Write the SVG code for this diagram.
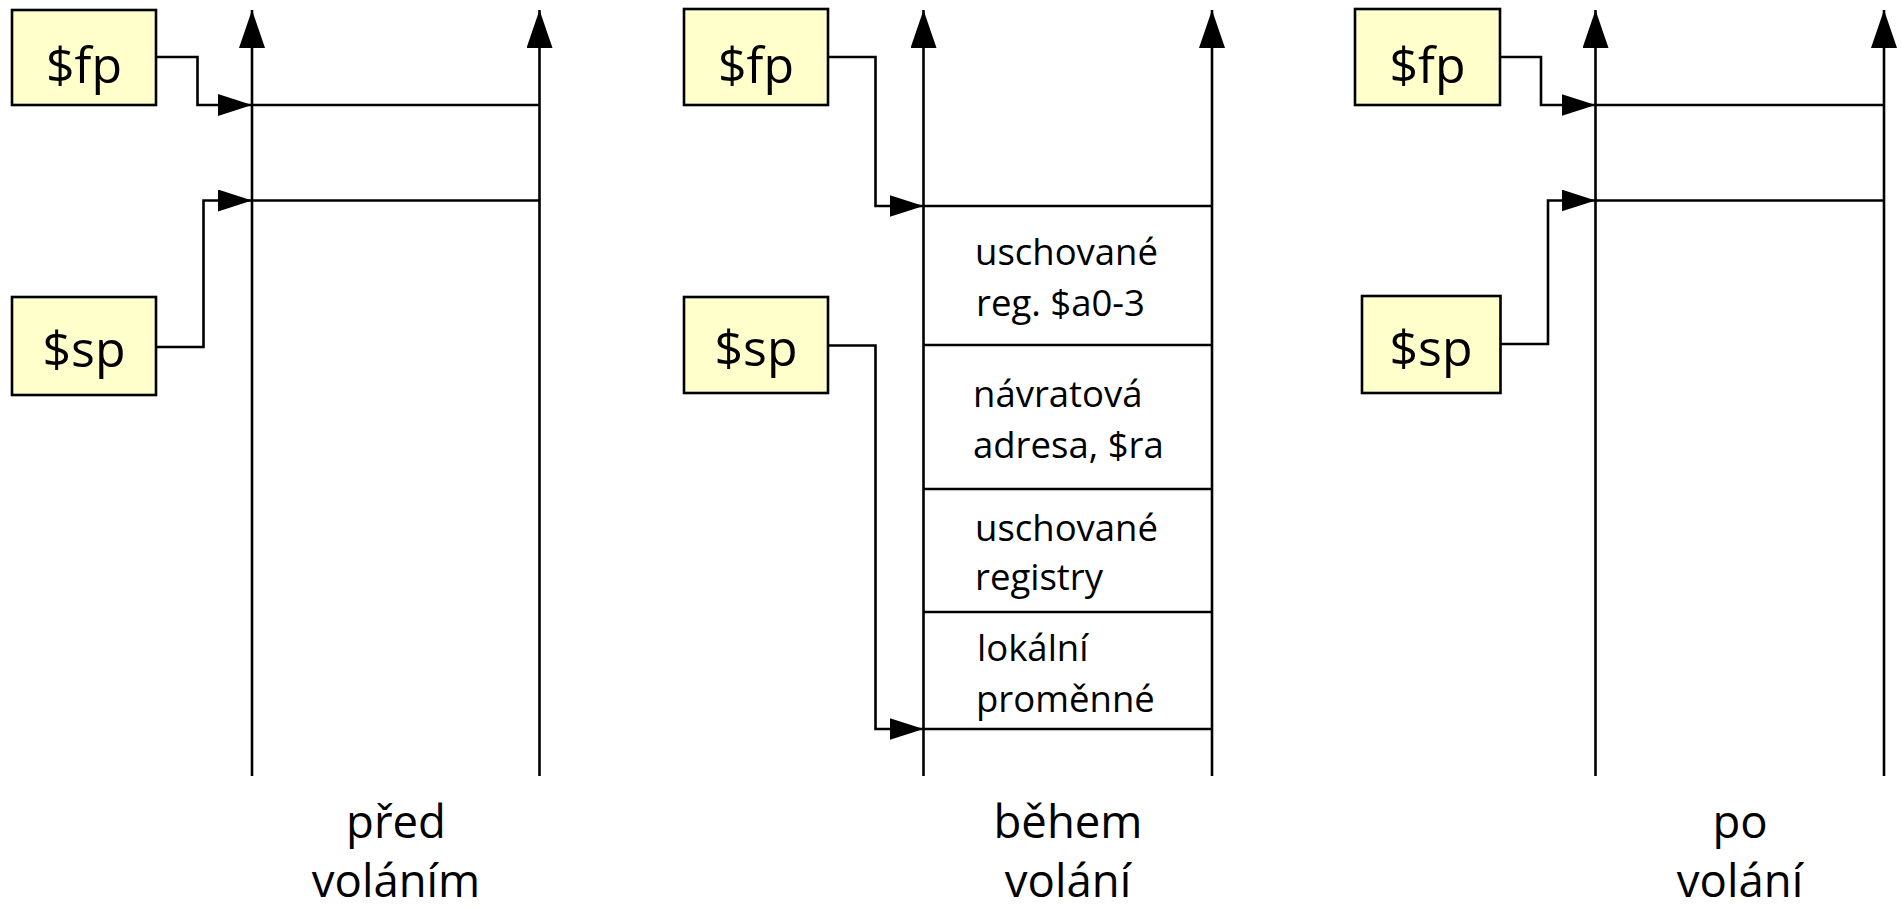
<svg xmlns="http://www.w3.org/2000/svg" width="1902" height="908" viewBox="0 0 1902 908">
<style>
  .ln { fill: none; stroke: #000; stroke-width: 2.6; }
  .box { fill: #FFFFCC; stroke: #000; stroke-width: 2.6; }
  .reg { font-family: "Open Sans", "Noto Sans", sans-serif; font-size: 50px; fill: #000; text-anchor: middle; }
  .cell { font-family: "Open Sans", "Noto Sans", sans-serif; font-size: 36.5px; fill: #000; }
  .cap { font-family: "Open Sans", "Noto Sans", sans-serif; font-size: 45.5px; fill: #000; text-anchor: middle; }
</style>
<defs>
  <marker id="up" markerUnits="userSpaceOnUse" markerWidth="38" markerHeight="26" refX="38" refY="13" orient="auto">
    <path d="M0,0 L38,13 L0,26 Z" fill="#000"/>
  </marker>
  <marker id="ptr" markerUnits="userSpaceOnUse" markerWidth="34" markerHeight="22" refX="34" refY="11" orient="auto">
    <path d="M0,0 L34,11 L0,22 Z" fill="#000"/>
  </marker>
</defs>

<!-- Panel 1: před voláním -->
<g id="p1-axes">
  <line class="ln" x1="252" y1="776" x2="252" y2="10" marker-end="url(#up)"/>
  <line class="ln" x1="539.5" y1="776" x2="539.5" y2="10" marker-end="url(#up)"/>
  <line class="ln" x1="252" y1="105" x2="539.5" y2="105"/>
  <line class="ln" x1="252" y1="200.5" x2="539.5" y2="200.5"/>
</g>
<g id="p1-fp">
  <rect class="box" x="12" y="10" width="144" height="95"/>
  <text class="reg" x="84" y="83">$fp</text>
</g>
<g id="p1-sp">
  <rect class="box" x="12" y="297" width="144" height="98"/>
  <text class="reg" x="84" y="367">$sp</text>
</g>
<g id="p1-label">
  <text class="cap" x="396" y="838">před</text>
  <text class="cap" x="396" y="897">voláním</text>
</g>

<!-- Panel 2: během volání -->
<g id="p2-axes">
  <line class="ln" x1="923.5" y1="776" x2="923.5" y2="10" marker-end="url(#up)"/>
  <line class="ln" x1="1212" y1="776" x2="1212" y2="10" marker-end="url(#up)"/>
</g>
<g id="p2-cell1">
  <line class="ln" x1="923.5" y1="206" x2="1212" y2="206"/>
  <text class="cell" x="975" y="265">uschované</text>
  <text class="cell" x="976" y="316">reg. $a0-3</text>
</g>
<g id="p2-cell2">
  <line class="ln" x1="923.5" y1="345" x2="1212" y2="345"/>
  <text class="cell" x="973" y="407">návratová</text>
  <text class="cell" x="973" y="458">adresa, $ra</text>
</g>
<g id="p2-cell3">
  <line class="ln" x1="923.5" y1="489" x2="1212" y2="489"/>
  <text class="cell" x="975" y="541">uschované</text>
  <text class="cell" x="975" y="590">registry</text>
</g>
<g id="p2-cell4">
  <line class="ln" x1="923.5" y1="612" x2="1212" y2="612"/>
  <text class="cell" x="977" y="661">lokální</text>
  <text class="cell" x="976" y="712">proměnné</text>
  <line class="ln" x1="923.5" y1="729" x2="1212" y2="729"/>
</g>
<g id="p2-fp">
  <rect class="box" x="684" y="9" width="144" height="96"/>
  <text class="reg" x="756" y="83">$fp</text>
</g>
<g id="p2-sp">
  <rect class="box" x="684" y="297" width="144" height="96"/>
  <text class="reg" x="756" y="366">$sp</text>
</g>
<g id="p2-label">
  <text class="cap" x="1068" y="838">během</text>
  <text class="cap" x="1068" y="897">volání</text>
</g>

<!-- Panel 3: po volání -->
<g id="p3-axes">
  <line class="ln" x1="1595.5" y1="776" x2="1595.5" y2="10" marker-end="url(#up)"/>
  <line class="ln" x1="1884" y1="776" x2="1884" y2="10" marker-end="url(#up)"/>
  <line class="ln" x1="1595.5" y1="105" x2="1884" y2="105"/>
  <line class="ln" x1="1595.5" y1="200.5" x2="1884" y2="200.5"/>
</g>
<g id="p3-fp">
  <rect class="box" x="1355" y="9" width="145" height="96"/>
  <text class="reg" x="1427.5" y="83">$fp</text>
</g>
<g id="p3-sp">
  <rect class="box" x="1362" y="296" width="138.5" height="97"/>
  <text class="reg" x="1431" y="366">$sp</text>
</g>
<g id="p3-label">
  <text class="cap" x="1740" y="838">po</text>
  <text class="cap" x="1740" y="897">volání</text>
</g>

<!-- Connectors -->
<g id="connectors">
  <path class="ln" d="M156,57 H197.5 V105 H252" marker-end="url(#ptr)"/>
  <path class="ln" d="M156,347 H203.5 V200.5 H252" marker-end="url(#ptr)"/>
  <path class="ln" d="M828,57 H875.5 V206 H923.5" marker-end="url(#ptr)"/>
  <path class="ln" d="M828,345.5 H875.5 V729 H923.5" marker-end="url(#ptr)"/>
  <path class="ln" d="M1500,57 H1541 V105 H1595.5" marker-end="url(#ptr)"/>
  <path class="ln" d="M1500.5,344 H1548 V200.5 H1595.5" marker-end="url(#ptr)"/>
</g>
</svg>
